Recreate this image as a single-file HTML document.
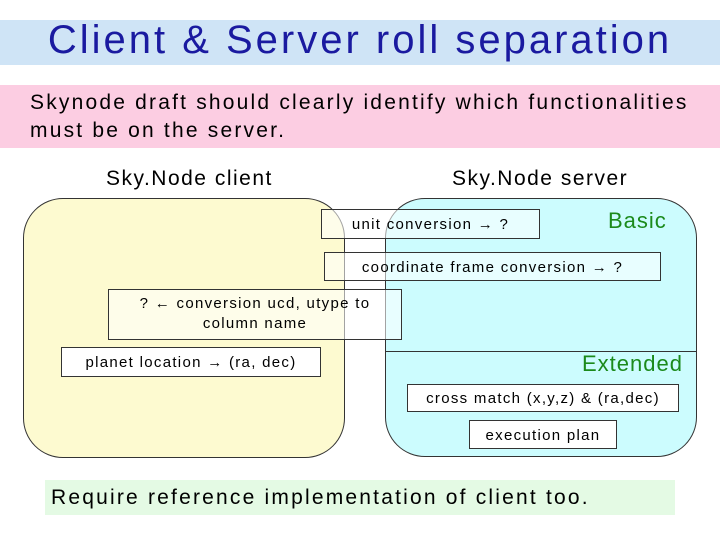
<!DOCTYPE html>
<html><head><style>
body{margin:0;width:720px;height:540px;background:#fff;position:relative;overflow:hidden;font-family:"Liberation Sans",sans-serif;}
div{position:absolute;box-sizing:border-box;}
.b{background:rgba(255,255,255,0.55);border:1px solid #333;font-size:15px;text-align:center;color:#000;letter-spacing:1.3px;white-space:nowrap;}
</style></head><body>
<div style="left:0;top:20px;width:720px;height:45px;background:#cfe4f6;"></div>
<div style="left:0;top:18px;width:720px;text-align:center;font-size:40px;color:#1a1aa0;letter-spacing:3px;">Client &amp; Server roll separation</div>
<div style="left:0;top:85px;width:720px;height:63px;background:#fccde2;"></div>
<div style="left:30px;top:89px;font-size:21px;line-height:28px;color:#000;letter-spacing:2.2px;white-space:nowrap;">Skynode draft should clearly identify which functionalities<br>must be on the server.</div>
<div style="left:106px;top:167px;font-size:21px;letter-spacing:1.5px;">Sky.Node client</div>
<div style="left:452px;top:167px;font-size:21px;letter-spacing:1.5px;">Sky.Node server</div>
<div style="left:23px;top:198px;width:322px;height:260px;background:#fdfad0;border:1px solid #333;border-radius:40px;"></div>
<div style="left:385px;top:198px;width:312px;height:259px;background:#ccfcfe;border:1px solid #333;border-radius:40px;overflow:hidden;"><div style="left:0;top:152px;width:312px;border-top:1px solid #333;"></div></div>
<div style="left:608px;top:208px;font-size:22px;color:#1b8a1b;letter-spacing:1px;">Basic</div>
<div style="left:582px;top:351px;font-size:22px;color:#1b8a1b;letter-spacing:1px;">Extended</div>
<div class="b" style="left:321px;top:209px;width:219px;height:30px;line-height:30px;">unit conversion → ?</div>
<div class="b" style="left:324px;top:252px;width:337px;height:29px;line-height:29px;">coordinate frame conversion → ?</div>
<div class="b" style="left:108px;top:289px;width:294px;height:51px;line-height:20px;padding-top:4px;">? ← conversion ucd, utype to<br>column name</div>
<div class="b" style="left:61px;top:347px;width:260px;height:30px;line-height:30px;background:#fff;">planet location → (ra, dec)</div>
<div class="b" style="left:407px;top:384px;width:272px;height:28px;line-height:28px;background:#fff;">cross match (x,y,z) &amp; (ra,dec)</div>
<div class="b" style="left:469px;top:420px;width:148px;height:29px;line-height:29px;background:#fff;">execution plan</div>
<div style="left:45px;top:480px;width:630px;height:35px;background:#e4fae4;font-size:21px;line-height:35px;padding-left:6px;letter-spacing:2.2px;white-space:nowrap;">Require reference implementation of  client too.</div>
</body></html>
